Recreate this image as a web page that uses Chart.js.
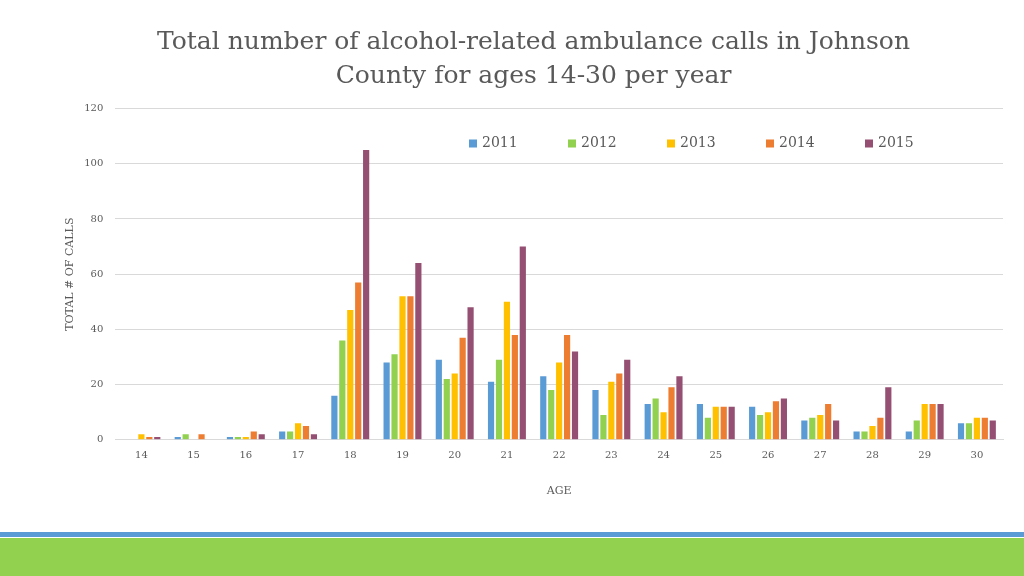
<!DOCTYPE html>
<html>
<head>
<meta charset="utf-8">
<script src="https://cdn.jsdelivr.net/npm/chart.js@4"></script>
<style>
  html, body { margin: 0; padding: 0; background: #fff; }
  #wrap { position: relative; width: 1024px; height: 576px; overflow: hidden; }
  #wrap canvas { position: absolute; left: 0; top: 0; }
  .strip-blue { position: absolute; left: 0; top: 532px; width: 1024px; height: 5px; background: #5b9bd5; }
  .strip-green { position: absolute; left: 0; top: 538px; width: 1024px; height: 38px; background: #92d050; }
</style>
</head>
<body>
<div id="wrap">
  <canvas id="chart" width="1024" height="576"></canvas>
  <div class="strip-blue"></div>
  <div class="strip-green"></div>
</div>
<script>
const ages = ['14', '15', '16', '17', '18', '19', '20', '21', '22', '23', '24', '25', '26', '27', '28', '29', '30'];
const years = ['2011', '2012', '2013', '2014', '2015'];
const calls2011 = [0, 1, 1, 3, 16, 28, 29, 21, 23, 18, 13, 13, 12, 7, 3, 3, 6];
const calls2012 = [0, 2, 1, 3, 36, 31, 22, 29, 18, 9, 15, 8, 9, 8, 3, 7, 6];
const calls2013 = [2, 0, 1, 6, 47, 52, 24, 50, 28, 21, 10, 12, 10, 9, 5, 13, 8];
const calls2014 = [1, 2, 3, 5, 57, 52, 37, 38, 38, 24, 19, 12, 14, 13, 8, 13, 8];
const calls2015 = [1, 0, 2, 2, 105, 64, 48, 70, 32, 29, 23, 12, 15, 7, 19, 13, 7];
const yTicks = [0, 20, 40, 60, 80, 100, 120];

const colors = ['#5b9bd5', '#92d050', '#ffc000', '#ed7d31', '#954f72'];
const seriesValues = [calls2011, calls2012, calls2013, calls2014, calls2015];
const serif = '"DejaVu Serif", serif';
const grey = '#595959';

// legend sits inside the plot, under the 120 gridline
const insideLegend = {
  id: 'insideLegend',
  afterDraw(chart) {
    const ctx = chart.ctx;
    const y = chart.chartArea.top + 35;
    ctx.save();
    ctx.font = '14px ' + serif;
    ctx.textBaseline = 'middle';
    chart.data.datasets.forEach((ds, i) => {
      const x = 469 + i * 99;
      ctx.fillStyle = ds.backgroundColor;
      ctx.fillRect(x, y - 4, 8, 8);
      ctx.fillStyle = grey;
      ctx.fillText(ds.label, x + 13, y);
    });
    ctx.restore();
  }
};

new Chart(document.getElementById('chart'), {
  type: 'bar',
  data: {
    labels: ages,
    datasets: years.map((year, i) => ({
      label: year,
      data: seriesValues[i],
      backgroundColor: colors[i],
      categoryPercentage: 0.76,
      barPercentage: 0.78
    }))
  },
  options: {
    responsive: false,
    animation: false,
    layout: { padding: { left: 64, right: 21, bottom: 74 } },
    plugins: {
      legend: { display: false },
      tooltip: { enabled: false },
      title: {
        display: true,
        text: ['Total number of alcohol-related ambulance calls in Johnson', 'County for ages 14-30 per year'],
        color: grey,
        font: { family: serif, size: 25, weight: 'normal', lineHeight: 1.35 },
        padding: { top: 26, bottom: 15 }
      }
    },
    scales: {
      x: {
        grid: { display: false },
        border: { color: '#d9d9d9' },
        ticks: { color: grey, font: { family: serif, size: 10 }, padding: 2 },
        title: { display: true, text: 'AGE', color: grey, font: { family: serif, size: 11 }, padding: { top: 21 } }
      },
      y: {
        min: 0,
        max: 120,
        afterBuildTicks: axis => { axis.ticks = yTicks.map(v => ({ value: v })); },
        grid: { color: '#d9d9d9', drawTicks: false },
        border: { display: false },
        ticks: { color: grey, font: { family: serif, size: 10 }, padding: 12 },
        title: { display: true, text: 'TOTAL # OF CALLS', color: grey, font: { family: serif, size: 11 }, padding: { top: 0, bottom: -5 } }
      }
    }
  },
  plugins: [insideLegend]
});
</script>
</body>
</html>
